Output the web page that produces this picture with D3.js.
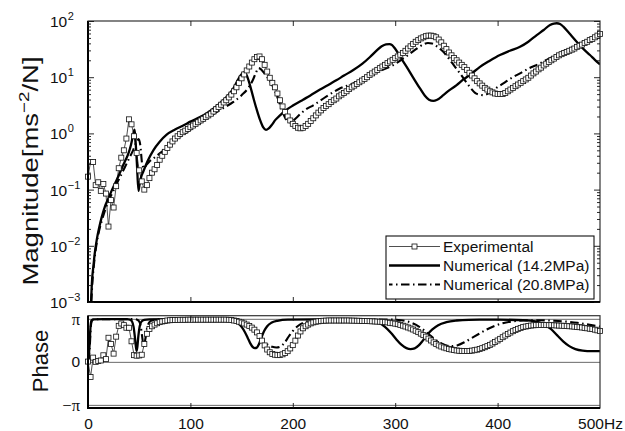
<!DOCTYPE html>
<html>
<head>
<meta charset="utf-8">
<script src="https://cdn.jsdelivr.net/npm/d3@7"></script>
<style>
  html, body { margin: 0; padding: 0; background: #fff; }
  svg { display: block; font-family: "Liberation Sans", Arial, Helvetica, sans-serif; }
</style>
</head>
<body>
<svg id="chart" width="625" height="431"></svg>
<script>
// Measured frequency response: accelerance magnitude and phase, 0-500 Hz.
const expStep = 2.5; // Hz between measured points (first point at 0 Hz)

// Experimental magnitude [m s^-2 / N], one value per 2.5 Hz from 0 to 500 Hz
const expMagnitude = [
  0.17, 0.31, 0.31, 0.12, 0.135, 0.095, 0.126, 0.085, 0.022, 0.065,
  0.048, 0.115, 0.24, 0.37, 0.50, 0.81, 1.78, 1.45, 0.89, 0.45,
  0.22, 0.14, 0.10, 0.12, 0.16, 0.20, 0.23, 0.275, 0.34, 0.40,
  0.47, 0.55, 0.63, 0.72, 0.81, 0.89, 0.98, 1.05, 1.12, 1.20,
  1.29, 1.38, 1.48, 1.58, 1.70, 1.82, 1.95, 2.09, 2.24, 2.45,
  2.69, 2.95, 3.24, 3.55, 3.89, 4.37, 4.90, 5.62, 6.61, 7.94,
  9.55, 11.2, 13.2, 15.5, 18.2, 20.9, 22.9, 23.4, 20.9, 16.6,
  12.6, 9.77, 7.94, 6.61, 5.13, 3.89, 3.02, 2.40, 2.00, 1.70,
  1.48, 1.35, 1.26, 1.23, 1.26, 1.35, 1.48, 1.66, 1.86, 2.09,
  2.34, 2.57, 2.82, 3.09, 3.31, 3.63, 3.89, 4.17, 4.57, 4.90,
  5.25, 5.62, 6.17, 6.61, 7.08, 7.59, 8.13, 8.71, 9.33, 10.0,
  11.0, 11.7, 12.6, 13.5, 14.5, 15.5, 16.6, 17.8, 19.1, 20.4,
  21.9, 23.4, 25.1, 26.9, 29.5, 32.4, 35.5, 38.9, 42.7, 45.7,
  49.0, 51.3, 53.7, 55.0, 55.0, 53.7, 51.3, 46.8, 41.7, 36.3,
  31.6, 27.5, 24.5, 21.9, 20.0, 18.2, 16.6, 15.1, 13.5, 12.0,
  10.7, 9.55, 8.51, 7.76, 7.08, 6.46, 6.03, 5.62, 5.37, 5.13,
  5.01, 5.01, 5.01, 5.25, 5.62, 6.03, 6.46, 6.92, 7.41, 7.94,
  8.51, 9.12, 9.77, 10.7, 11.7, 12.6, 13.8, 14.8, 16.2, 17.4,
  18.6, 20.0, 21.4, 22.9, 24.5, 25.7, 26.9, 28.2, 29.5, 30.9,
  32.4, 34.7, 36.3, 38.0, 40.7, 42.7, 45.7, 47.9, 51.3, 55.0,
  58.9
];

// Experimental phase [rad], same frequency grid
const expPhase = [
  0.02, -1.11, 0.31, 0.00, 0.07, 0.10, 0.48, 0.20, 1.76, 1.30,
  0.60, 1.84, 2.63, 2.80, 2.68, 2.49, 2.49, 1.50, 0.49, 0.45,
  0.47, 0.52, 1.30, 2.05, 2.40, 2.60, 2.72, 2.82, 2.90, 2.95,
  2.99, 3.02, 3.04, 3.05, 3.06, 3.06, 3.07, 3.07, 3.07, 3.08,
  3.08, 3.08, 3.08, 3.08, 3.08, 3.08, 3.08, 3.08, 3.08, 3.08,
  3.08, 3.08, 3.08, 3.08, 3.08, 3.07, 3.05, 3.02, 2.98, 2.93,
  2.87, 2.80, 2.72, 2.62, 2.50, 2.35, 2.15, 1.88, 1.55, 1.20,
  0.90, 0.70, 0.58, 0.52, 0.49, 0.50, 0.55, 0.64, 0.78, 0.98,
  1.22, 1.55, 1.92, 2.22, 2.45, 2.60, 2.72, 2.81, 2.88, 2.93,
  2.96, 2.98, 3.00, 3.01, 3.02, 3.02, 3.02, 3.02, 3.02, 3.02,
  3.02, 3.02, 3.02, 3.01, 3.01, 3.00, 3.00, 2.99, 2.99, 2.98,
  2.97, 2.96, 2.95, 2.94, 2.93, 2.92, 2.90, 2.88, 2.85, 2.82,
  2.79, 2.75, 2.70, 2.64, 2.58, 2.51, 2.44, 2.36, 2.27, 2.17,
  2.06, 1.95, 1.84, 1.70, 1.56, 1.42, 1.30, 1.20, 1.12, 1.05,
  0.99, 0.94, 0.90, 0.86, 0.83, 0.81, 0.80, 0.79, 0.79, 0.80,
  0.82, 0.85, 0.89, 0.94, 1.00, 1.07, 1.15, 1.24, 1.34, 1.45,
  1.56, 1.68, 1.80, 1.92, 2.03, 2.14, 2.24, 2.33, 2.41, 2.48,
  2.54, 2.58, 2.62, 2.65, 2.67, 2.68, 2.69, 2.69, 2.69, 2.69,
  2.68, 2.68, 2.67, 2.66, 2.65, 2.64, 2.63, 2.62, 2.60, 2.59,
  2.57, 2.55, 2.53, 2.51, 2.48, 2.45, 2.42, 2.39, 2.35, 2.30,
  2.25
];

// Numerical model, E = 14.2 MPa
const num142MagFreq = [3, 4, 5.2, 6.5, 8.5, 11, 13.4, 16.5, 19.8, 23,
  26.4, 30, 33, 36, 39.4, 42, 44, 45.5, 46.5, 47.8,
  49.3, 50.5, 52, 54, 58, 63.8, 70, 76.8, 85, 93,
  100, 109.4, 116, 122.4, 128, 132, 138, 142, 146, 149,
  152, 154.5, 157, 159.5, 162, 165, 168, 171, 173.8, 176.5,
  179.4, 183, 187.5, 193, 200.5, 210, 216.8, 226.6, 236.3, 242.9,
  250, 259.1, 268, 275.4, 281, 286.8, 291, 294.3, 297, 299.8,
  305, 311.2, 318, 324.2, 329, 333, 337.2, 341, 347, 353,
  360, 366.5, 373, 382.8, 392, 402.3, 412, 421.9, 430, 438.2,
  445, 451.2, 455, 457.7, 461, 464.2, 470, 477.2, 484, 490.2,
  495, 500];
const num142Mag = [0.001, 0.0025, 0.0042, 0.0071, 0.0126, 0.0214, 0.0324, 0.050, 0.069, 0.095,
  0.129, 0.178, 0.24, 0.316, 0.436, 0.63, 0.93, 1.17, 0.71, 0.28,
  0.095, 0.13, 0.17, 0.21, 0.316, 0.50, 0.71, 0.95, 1.17, 1.38,
  1.62, 1.95, 2.29, 2.75, 3.31, 3.89, 5.01, 6.31, 8.71, 10.7,
  12.2, 11.2, 8.51, 5.89, 3.98, 2.57, 1.74, 1.29, 1.16, 1.23,
  1.41, 1.74, 2.09, 2.57, 3.16, 3.98, 4.68, 6.03, 7.59, 8.91,
  10.7, 13.4, 17.4, 22.9, 28.8, 35.5, 38.5, 38.9, 37.2, 32.4,
  22.9, 15.3, 9.55, 6.31, 4.68, 3.98, 3.80, 3.98, 4.79, 5.89,
  7.24, 9.12, 11.0, 15.3, 19.5, 24.8, 29.5, 34.7, 42.7, 56.2,
  69.2, 85.1, 90.2, 91.2, 88.1, 79.4, 60.3, 42.7, 31.6, 24.8,
  20.4, 16.9];
const num142PhaseFreq = [0.5, 1.5, 2.5, 3.5, 5, 15, 38, 41, 43, 44.5,
  45.8, 46.8, 47.5, 48.2, 49.2, 50.5, 52, 55, 60, 80,
  138, 142, 146, 150, 153, 156, 158.5, 161, 163, 165,
  167, 169, 172, 175, 179, 185, 195, 220, 270, 278,
  284, 290, 296, 301, 306, 311, 315, 319, 323, 327,
  331, 336, 342, 350, 360, 372, 400, 425, 437, 445,
  452, 458, 464, 470, 476, 483, 492, 500];
const num142Phase = [0.05, 1.2, 2.6, 3.02, 3.1, 3.12, 3.12, 3.08, 2.95, 2.55,
  1.8, 1.1, 0.8, 1.1, 1.9, 2.6, 2.92, 3.06, 3.1, 3.12,
  3.12, 3.05, 2.88, 2.55, 2.2, 1.75, 1.35, 1.07, 1.0, 1.05,
  1.3, 1.7, 2.25, 2.6, 2.85, 3.0, 3.08, 3.1, 3.1, 3.02,
  2.85, 2.55, 2.1, 1.65, 1.25, 1.0, 0.93, 0.98, 1.2, 1.55,
  1.95, 2.35, 2.68, 2.9, 3.02, 3.07, 3.08, 3.04, 2.95, 2.75,
  2.4, 1.95, 1.5, 1.15, 0.93, 0.82, 0.78, 0.78];

// Numerical model, E = 20.8 MPa
const num208MagFreq = [3.2, 4.5, 6, 8.5, 11, 13.5, 17, 20, 24, 28,
  32, 36, 40, 44, 47, 49.5, 51, 53, 55, 57,
  60, 64, 70, 75, 85, 95, 105, 115, 122, 132,
  142, 150, 157, 161, 164, 166.5, 169, 173, 179.4, 185.8,
  190, 193.4, 196, 199, 203, 207, 213, 220, 233, 245,
  259, 270, 278.6, 290, 298, 306, 314.5, 322, 328, 332,
  336, 342, 347, 352, 358.4, 364, 369.8, 374, 378, 382,
  386, 392, 398, 405.6, 413, 421.9, 431, 441.4, 450, 457.7,
  467, 477.2, 488, 500];
const num208Mag = [0.001, 0.0025, 0.005, 0.0112, 0.019, 0.028, 0.045, 0.063, 0.089, 0.126,
  0.178, 0.25, 0.355, 0.50, 0.68, 0.79, 0.63, 0.28, 0.24, 0.275,
  0.316, 0.36, 0.44, 0.52, 0.76, 1.0, 1.35, 1.78, 2.19, 2.82,
  3.63, 4.79, 6.61, 8.91, 12.0, 14.5, 13.8, 11.2, 7.59, 3.98,
  2.40, 1.78, 1.58, 1.62, 1.86, 2.19, 2.69, 3.16, 4.57, 6.17,
  7.76, 9.55, 11.7, 14.1, 16.4, 20.4, 26.3, 33.1, 38.9, 40.7,
  39.8, 33.9, 28.2, 21.9, 15.3, 11.2, 7.94, 6.31, 5.25, 4.90,
  4.79, 5.25, 6.31, 7.76, 9.55, 11.7, 14.5, 17.6, 21.4, 24.5,
  30.2, 37.2, 45.7, 57.5];
const num208PhaseFreq = [0.5, 1.8, 2.8, 4, 6, 15, 45, 48, 50, 51.5,
  52.8, 53.8, 54.6, 55.4, 56.5, 58, 60, 63, 70, 90,
  145, 150, 155, 160, 165, 170, 175, 180, 184, 188,
  192, 196, 200, 205, 210, 216, 225, 240, 300, 306,
  312, 320, 328, 335, 342, 349, 355, 361, 368, 375,
  382, 389, 397, 405, 414, 425, 440, 455, 467, 478,
  490, 500];
const num208Phase = [0.05, 1.2, 2.6, 3.02, 3.1, 3.12, 3.12, 3.08, 2.95, 2.6,
  1.9, 1.35, 1.15, 1.35, 1.95, 2.55, 2.9, 3.04, 3.1, 3.12,
  3.12, 3.04, 2.85, 2.5, 2.05, 1.6, 1.28, 1.1, 1.05, 1.12,
  1.4, 1.85, 2.25, 2.62, 2.85, 2.98, 3.05, 3.08, 3.08, 3.04,
  2.95, 2.72, 2.32, 1.88, 1.48, 1.22, 1.15, 1.22, 1.45, 1.75,
  2.05, 2.35, 2.62, 2.82, 2.95, 3.02, 3.04, 3.0, 2.94, 2.85,
  2.7, 2.58];

// Ticks and labels
const freqTicks = [0, 100, 200, 300, 400, 500];
const freqTickLabels = ["0", "100", "200", "300", "400", "500Hz"];
const freqInnerTicks = [100, 200, 300, 400];
const magTickValues = [1e-3, 1e-2, 1e-1, 1, 10, 100];
const magTickExponents = ["\u22123", "\u22122", "\u22121", "0", "1", "2"];
const phaseTicks = [-Math.PI, 0, Math.PI];
const phaseTickLabels = ["\u2212\u03c0", "0", "\u03c0"];
const legendLabels = ["Experimental", "Numerical (14.2MPa)", "Numerical (20.8MPa)"];

// ---------------------------------------------------------------
const svg = d3.select("#chart");
const INK = "#111";

const magBox = { left: 88, right: 600, top: 21, bottom: 302 };
const phBox = { left: 88, right: 600, top: 315.7, bottom: 408 };

const x = d3.scaleLinear().domain([0, 500]).range([magBox.left, magBox.right]);
const yMag = d3.scaleLog().domain([1e-3, 1e2]).range([magBox.bottom, magBox.top]);
const yPh = d3.scaleLinear().domain([-3.37, 3.37]).range([phBox.bottom, phBox.top]);

const expData = expMagnitude.map((v, i) => ({ f: i * expStep, mag: v, ph: expPhase[i] }));
const s142Mag = d3.zip(num142MagFreq, num142Mag);
const s208Mag = d3.zip(num208MagFreq, num208Mag);
const s142Ph = d3.zip(num142PhaseFreq, num142Phase);
const s208Ph = d3.zip(num208PhaseFreq, num208Phase);

// clip regions
const defs = svg.append("defs");
defs.append("clipPath").attr("id", "clip-mag").append("rect")
  .attr("x", magBox.left).attr("y", magBox.top)
  .attr("width", magBox.right - magBox.left).attr("height", magBox.bottom - magBox.top);
defs.append("clipPath").attr("id", "clip-ph").append("rect")
  .attr("x", phBox.left).attr("y", phBox.top)
  .attr("width", phBox.right - phBox.left).attr("height", phBox.bottom - phBox.top);

function styleTicks(g) {
  g.select(".domain").remove();
  g.selectAll(".tick line").attr("stroke", INK).attr("stroke-width", 0.9);
}

const DASHDOT = "8.5,3.5,1.5,3.5";
const SQ = 5;

function drawSquares(g, data, yAcc) {
  g.selectAll("rect.sq").data(data).join("rect")
    .attr("class", "sq")
    .attr("x", d => x(d.f) - SQ / 2)
    .attr("y", d => yAcc(d) - SQ / 2)
    .attr("width", SQ).attr("height", SQ)
    .attr("fill", "#fff").attr("stroke", INK).attr("stroke-width", 0.8);
}

// ================= Magnitude panel =================
const gMag = svg.append("g");

const magLines = gMag.append("g").attr("clip-path", "url(#clip-mag)");
const lineExpMag = d3.line().x(d => x(d.f)).y(d => yMag(d.mag));
magLines.append("path").datum(expData).attr("d", lineExpMag)
  .attr("fill", "none").attr("stroke", "#222").attr("stroke-width", 0.8);
drawSquares(gMag.append("g"), expData, d => yMag(d.mag));

const lineNumMag = d3.line().x(d => x(d[0])).y(d => yMag(d[1])).curve(d3.curveMonotoneX);
magLines.append("path").datum(s142Mag).attr("d", lineNumMag)
  .attr("fill", "none").attr("stroke", "#000").attr("stroke-width", 2.3)
  .attr("stroke-linejoin", "round");
magLines.append("path").datum(s208Mag).attr("d", lineNumMag)
  .attr("fill", "none").attr("stroke", "#000").attr("stroke-width", 2.1)
  .attr("stroke-dasharray", DASHDOT);

// frame
gMag.append("rect")
  .attr("x", magBox.left).attr("y", magBox.top)
  .attr("width", magBox.right - magBox.left).attr("height", magBox.bottom - magBox.top)
  .attr("fill", "none").attr("stroke", "#333").attr("stroke-width", 1.2);
gMag.append("path")
  .attr("d", `M${magBox.left},${magBox.top}V${magBox.bottom}H${magBox.right}`)
  .attr("fill", "none").attr("stroke", "#000").attr("stroke-width", 2);

// log ticks: majors and minors on both sides, pointing inward
const minorMag = yMag.ticks().filter(v => !magTickValues.some(m => Math.abs(m - v) / m < 1e-9));
gMag.append("g").attr("transform", `translate(${magBox.left},0)`)
  .call(d3.axisLeft(yMag).tickValues(minorMag).tickSize(-3).tickFormat("")).call(styleTicks);
gMag.append("g").attr("transform", `translate(${magBox.right},0)`)
  .call(d3.axisRight(yMag).tickValues(minorMag).tickSize(-3).tickFormat("")).call(styleTicks);
gMag.append("g").attr("transform", `translate(${magBox.right},0)`)
  .call(d3.axisRight(yMag).tickValues(magTickValues).tickSize(-6).tickFormat("")).call(styleTicks);
const magLeftAxis = gMag.append("g").attr("transform", `translate(${magBox.left},0)`)
  .call(d3.axisLeft(yMag).tickValues(magTickValues).tickSize(-6).tickFormat("")).call(styleTicks);

// decade labels: 10 with superscript exponent
magLeftAxis.selectAll(".tick").each(function (d, i) {
  const t = d3.select(this).append("text")
    .attr("x", -38).attr("y", 5.5)
    .attr("text-anchor", "start")
    .attr("fill", INK).attr("font-size", 15.5)
    .text("10");
  t.append("tspan").attr("dy", -7).attr("font-size", 11).attr("dx", 0.5)
    .text(magTickExponents[i]);
});

gMag.append("g").attr("transform", `translate(0,${magBox.bottom})`)
  .call(d3.axisBottom(x).tickValues(freqInnerTicks).tickSize(-5).tickFormat("")).call(styleTicks);
gMag.append("g").attr("transform", `translate(0,${magBox.top})`)
  .call(d3.axisTop(x).tickValues(freqInnerTicks).tickSize(-5).tickFormat("")).call(styleTicks);

// axis title
const magTitle = svg.append("text")
  .attr("transform", "translate(37.5,171) rotate(-90) scale(1.25,1)")
  .attr("text-anchor", "middle").attr("font-size", 22).attr("fill", INK);
magTitle.append("tspan").text("Magnitude[ms");
magTitle.append("tspan").attr("dy", -9).attr("font-size", 15).text("\u22122");
magTitle.append("tspan").attr("dy", 9).text("/N]");

// legend
const lg = svg.append("g");
lg.append("rect").attr("x", 386).attr("y", 236).attr("width", 208).attr("height", 63)
  .attr("fill", "#fff").attr("stroke", INK).attr("stroke-width", 1.1);
const rowY = [246.5, 265.5, 284.5];
lg.append("line").attr("x1", 389).attr("x2", 440).attr("y1", rowY[0]).attr("y2", rowY[0])
  .attr("stroke", "#222").attr("stroke-width", 0.8);
lg.append("rect").attr("x", 414.5 - SQ / 2).attr("y", rowY[0] - SQ / 2)
  .attr("width", SQ).attr("height", SQ)
  .attr("fill", "#fff").attr("stroke", INK).attr("stroke-width", 0.8);
lg.append("line").attr("x1", 389).attr("x2", 440).attr("y1", rowY[1]).attr("y2", rowY[1])
  .attr("stroke", "#000").attr("stroke-width", 2.3);
lg.append("line").attr("x1", 389).attr("x2", 440).attr("y1", rowY[2]).attr("y2", rowY[2])
  .attr("stroke", "#000").attr("stroke-width", 2.1).attr("stroke-dasharray", DASHDOT)
  .attr("stroke-dashoffset", 5);
legendLabels.forEach((s, i) => {
  lg.append("text").attr("x", 443).attr("y", rowY[i] + 5.5)
    .attr("font-size", 15.5).attr("fill", INK).text(s);
});

// ================= Phase panel =================
const gPh = svg.append("g");

// reference lines at -pi, 0, pi
gPh.append("g").attr("transform", `translate(${phBox.left},0)`)
  .call(d3.axisLeft(yPh).tickValues(phaseTicks).tickSize(-(phBox.right - phBox.left)).tickFormat(""))
  .call(g => {
    g.select(".domain").remove();
    g.selectAll(".tick line").attr("stroke", "#444").attr("stroke-width", 0.8);
  });

const phLines = gPh.append("g").attr("clip-path", "url(#clip-ph)");
const lineExpPh = d3.line().x(d => x(d.f)).y(d => yPh(d.ph));
phLines.append("path").datum(expData).attr("d", lineExpPh)
  .attr("fill", "none").attr("stroke", "#222").attr("stroke-width", 0.8);
drawSquares(gPh.append("g"), expData, d => yPh(d.ph));

const lineNumPh = d3.line().x(d => x(d[0])).y(d => yPh(d[1])).curve(d3.curveMonotoneX);
phLines.append("path").datum(s142Ph).attr("d", lineNumPh)
  .attr("fill", "none").attr("stroke", "#000").attr("stroke-width", 2.3)
  .attr("stroke-linejoin", "round");
phLines.append("path").datum(s208Ph).attr("d", lineNumPh)
  .attr("fill", "none").attr("stroke", "#000").attr("stroke-width", 2.1)
  .attr("stroke-dasharray", DASHDOT);

gPh.append("rect")
  .attr("x", phBox.left).attr("y", phBox.top)
  .attr("width", phBox.right - phBox.left).attr("height", phBox.bottom - phBox.top)
  .attr("fill", "none").attr("stroke", "#333").attr("stroke-width", 1.2);
gPh.append("path")
  .attr("d", `M${phBox.left},${phBox.top}V${phBox.bottom}H${phBox.right}`)
  .attr("fill", "none").attr("stroke", "#000").attr("stroke-width", 2);

gPh.append("g").attr("transform", `translate(0,${phBox.bottom})`)
  .call(d3.axisBottom(x).tickValues(freqInnerTicks).tickSize(-5).tickFormat("")).call(styleTicks);
gPh.append("g").attr("transform", `translate(0,${phBox.top})`)
  .call(d3.axisTop(x).tickValues(freqInnerTicks).tickSize(-5).tickFormat("")).call(styleTicks);

// frequency labels
gPh.append("g").attr("transform", `translate(0,${phBox.bottom})`)
  .call(d3.axisBottom(x).tickValues(freqTicks).tickSize(0).tickPadding(9.5)
    .tickFormat((d, i) => freqTickLabels[i]))
  .call(g => {
    g.select(".domain").remove();
    g.selectAll("text").attr("font-size", 15.5).attr("fill", INK)
      .attr("font-family", "'Liberation Sans', Arial, sans-serif");
  });

// phase labels
gPh.append("g").attr("transform", `translate(${phBox.left},0)`)
  .call(d3.axisLeft(yPh).tickValues(phaseTicks).tickSize(0).tickPadding(8)
    .tickFormat((d, i) => phaseTickLabels[i]))
  .call(g => {
    g.select(".domain").remove();
    g.selectAll("text").attr("fill", INK)
      .attr("font-size", (d, i) => phaseTickLabels[i] === "0" ? 15.5 : 16.5)
      .attr("font-family", (d, i) => phaseTickLabels[i] === "0"
        ? "'Liberation Sans', Arial, sans-serif" : "'Liberation Serif', 'Times New Roman', serif");
  });

svg.append("text")
  .attr("transform", "translate(48,361) rotate(-90)")
  .attr("text-anchor", "middle").attr("font-size", 22).attr("fill", INK)
  .text("Phase");
</script>
</body>
</html>
